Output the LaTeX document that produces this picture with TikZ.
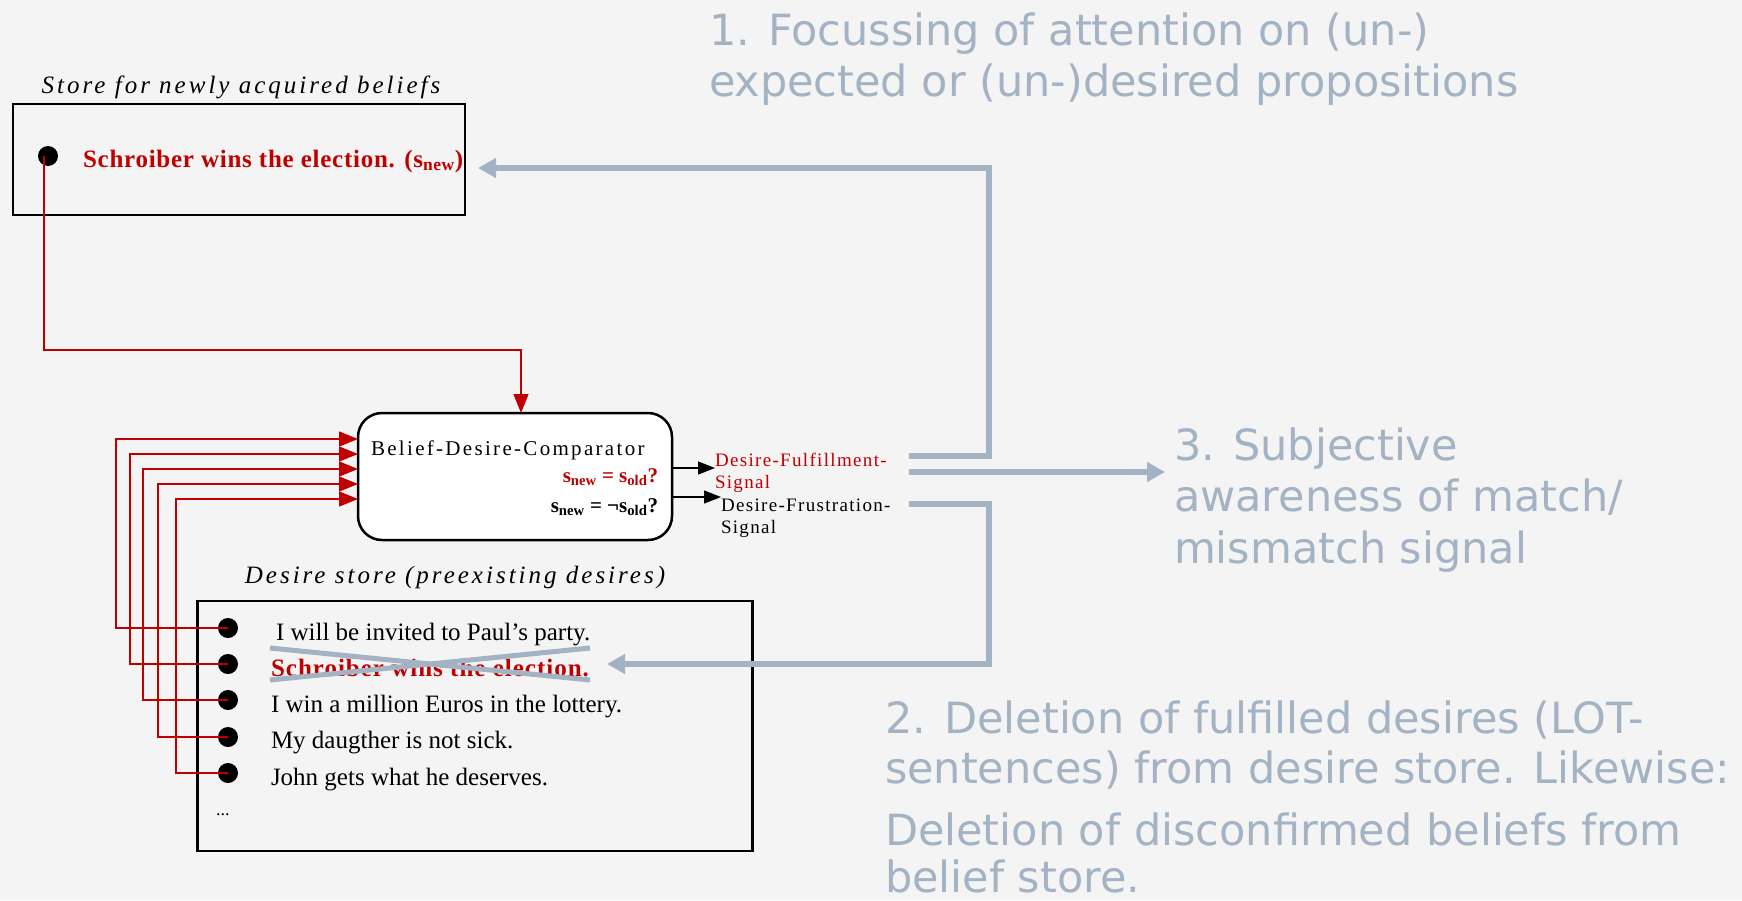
\documentclass[tikz,border=0pt]{standalone}
\usepackage{fontspec}
\setmainfont{Liberation Serif}
\newfontfamily\notefont{DejaVu Sans}
\usetikzlibrary{arrows.meta,calc}
\definecolor{bg}{HTML}{F4F4F4}
\definecolor{slate}{HTML}{A3B3C4}
\definecolor{dred}{HTML}{C00000}
\newcommand\tracking[1]{\addfontfeature{LetterSpace=#1}}

\begin{document}
\begin{tikzpicture}[x=1pt,y=-1pt,
  every node/.style={inner sep=0pt,outer sep=0pt},
  storebox/.style={draw=black,line width=2.5pt},
  cmpbox/.style={draw=black,fill=white,line width=2.5pt,rounded corners=24pt,
    minimum width=314pt,minimum height=127pt},
  dot/.style={circle,fill=black,minimum size=20pt},
  caption/.style={anchor=base,font=\fontsize{25}{30}\selectfont\itshape\tracking{12}},
  item/.style={anchor=base west,font=\fontsize{25}{30}\selectfont},
  reditem/.style={anchor=base west,text=dred,font=\fontsize{25}{30}\selectfont\bfseries\tracking{4}},
  signal/.style={anchor=base west,font=\fontsize{19}{22}\selectfont\tracking{7}},
  formula/.style={anchor=base east,font=\fontsize{21}{25}\selectfont\bfseries},
  note/.style={anchor=base west,text=slate,font=\notefont\fontsize{43}{51}\selectfont},
  redwire/.style={draw=dred,line width=1.4pt,-{Triangle[length=19pt,width=15pt]}},
  sigarrow/.style={draw=black,line width=1.2pt,-{Triangle[length=17pt,width=13pt]}},
  grayarrow/.style={draw=slate,line width=6pt,line join=miter,
    -{Triangle[length=18pt,width=19pt]}},
  cross/.style={draw=slate,line width=5pt}
]
\fill[bg] (0,0) rectangle (1742,900);
\useasboundingbox (0,0) rectangle (1742,900);

% belief store
\node[storebox,minimum width=452pt,minimum height=111pt] (bstore) at (239,159.5) {};
\node[caption] (bcap) at (241,93) {Store for newly acquired beliefs};
\node[dot] (bb) at (48,156) {};
\node[reditem] (bnew) at (83,167) {\tracking{3}Schroiber wins the election. (s\textsubscript{new})};

% comparator
\node[cmpbox] (cmp) at (515,476.5) {};
\node[anchor=base west,font=\fontsize{21}{25}\selectfont\tracking{11}] (cmptitle) at (371,455) {Belief-Desire-Comparator};
\node[formula,text=dred] (match) at (658,482) {s\textsubscript{new} = s\textsubscript{old}?};
\node[formula] (mismatch) at (658,512) {s\textsubscript{new} = ¬s\textsubscript{old}?};

% comparator outputs
\node[signal,text=dred] (ful1) at (715,466) {Desire-Fulfillment-};
\node[signal,text=dred] (ful2) at (715,488) {Signal};
\node[signal] (fru1) at (721,511) {Desire-Frustration-};
\node[signal] (fru2) at (721,533) {Signal};
\draw[sigarrow] (cmp.east |- 0,468) -- (ful1.west |- 0,468);
\draw[sigarrow] (cmp.east |- 0,497) -- (fru1.west |- 0,497);

% desire store
\node[storebox,minimum width=555pt,minimum height=250pt] (dstore) at (475,726) {};
\node[caption] (dcap) at (455,583) {Desire store (preexisting desires)};
\node[dot] (d1) at (228,628) {};
\node[dot] (d2) at (228,664) {};
\node[dot] (d3) at (228,700) {};
\node[dot] (d4) at (228,737) {};
\node[dot] (d5) at (228,773) {};
\node[item] (i1) at (276,640) {I will be invited to Paul's party.};
\node[reditem] (i2) at (271,676) {Schroiber wins the election.};
\node[item] (i3) at (271,712) {I win a million Euros in the lottery.};
\node[item] (i4) at (271,748) {My daugther is not sick.};
\node[item] (i5) at (271,785) {John gets what he deserves.};
\node[anchor=base west,font=\fontsize{18}{20}\selectfont] (more) at (216,815) {...};

% the fulfilled desire is struck out
\draw[cross] (270,648) -- (590,680);
\draw[cross] (270,680) -- (590,648);

% red feeds into the comparator
\coordinate (bend) at (521,350);
\draw[redwire] ($(bb.center)+(-4,0)$) |- (bend) -- (bend |- cmp.north);
\foreach \k/\x/\y in {1/116/439,2/130/454,3/143/469,4/158/484,5/176/499}
  \draw[redwire] (d\k.center) -| (\x,\y) -- (cmp.west |- 0,\y);

% gray feedback connectors
\coordinate (g1) at (909,456);
\coordinate (g2) at (909,472);
\coordinate (g3) at (909,504);
\coordinate (t1) at (478,168);
\coordinate (t2) at (1165,472);
\coordinate (t3) at (607,664);
\draw[grayarrow] (g1) -| (989,168) -- (t1);
\draw[grayarrow] (g2) -- (t2);
\draw[grayarrow] (g3) -| (989,664) -- (t3);

% notes
\node[note] (n1a) at (709,45) {1. Focussing of attention on (un-)};
\node[note] (n1b) at (709,96) {expected or (un-)desired propositions};
\node[note] (n3a) at (1174,460) {3. Subjective};
\node[note] (n3b) at (1174,511) {awareness of match/};
\node[note] (n3c) at (1174,563) {mismatch signal};
\node[note] (n2a) at (885,733) {2. Deletion of fulfilled desires (LOT-};
\node[note] (n2b) at (885,783) {sentences) from desire store. Likewise:};
\node[note] (n2c) at (885,845) {Deletion of disconfirmed beliefs from};
\node[note] (n2d) at (885,892) {belief store.};
\end{tikzpicture}
\end{document}
